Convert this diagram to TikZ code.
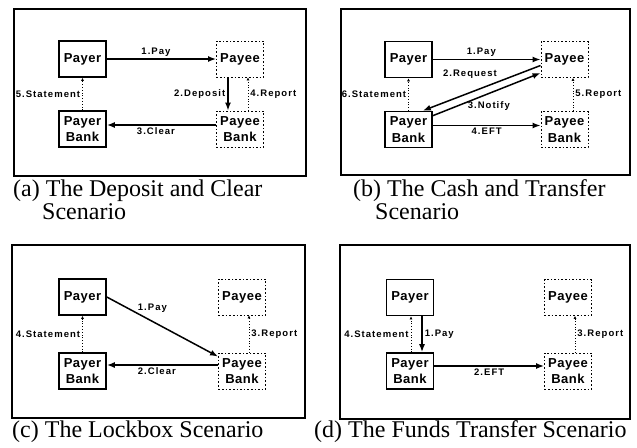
\documentclass[tikz,border=0pt]{standalone}
\usepackage{fontspec}
\setmainfont{Liberation Serif}
\newfontfamily\boxfont[LetterSpace=4]{Liberation Sans}
\newfontfamily\tagfont[LetterSpace=11]{Liberation Sans}
\usetikzlibrary{arrows.meta}
\tikzset{
  party/.style={draw,line width=1.6pt,minimum width=47pt,minimum height=36pt,
    inner sep=1pt,align=center,font=\boxfont\bfseries\fontsize{13}{16.5}\selectfont},
  remote/.style={party,dotted,line width=0.9pt},
  panel/.style={draw,line width=1.3pt},
  flow/.style={-{Latex[length=8pt,width=6pt]},line width=1.5pt},
  notice/.style={-{Latex[length=3pt,width=3pt]},dotted,line width=0.8pt},
  tag/.style={font=\tagfont\bfseries\fontsize{9.5}{11}\selectfont,inner sep=2pt},
  caption/.style={anchor=base west,inner sep=0pt,font=\fontsize{24}{26}\selectfont}
}

\begin{document}
\begin{tikzpicture}[x=1pt,y=-1pt]
  \useasboundingbox (0,0) rectangle (637,447);

  % (a) deposit and clear
  \draw[panel] (14,9) rectangle (306,176);
  \node[party] (payerA) at (82.5,59) {Payer};
  \node[remote] (payeeA) at (240,59) {Payee};
  \node[party] (payerbankA) at (82.5,129) {Payer\\Bank};
  \node[remote] (payeebankA) at (240,129) {Payee\\Bank};
  \draw[flow] (payerA) -- node[tag,above,pos=0.45] {1.Pay} (payeeA);
  \draw[flow] ([xshift=-12pt]payeeA.south) -- node[tag,left] {2.Deposit}
    ([xshift=-12pt]payeebankA.north);
  \draw[flow] ([yshift=4pt]payeebankA.west) -- node[tag,below,pos=0.55] {3.Clear}
    ([yshift=4pt]payerbankA.east);
  \draw[notice] ([xshift=8pt]payeebankA.north) -- node[tag,right] {4.Report}
    ([xshift=8pt]payeeA.south);
  \draw[notice] (payerbankA) -- node[tag,left] {5.Statement} (payerA);
  \node[caption] (capA) at (13,196) {(a) The Deposit and Clear};
  \node[caption] (capA2) at (42,219) {Scenario};

  % (b) cash and transfer
  \draw[panel] (341,9) rectangle (630,175);
  \node[party] (payerB) at (408.5,59.5) {Payer};
  \node[remote] (payeeB) at (564.5,59.5) {Payee};
  \node[party] (payerbankB) at (408.5,129.5) {Payer\\Bank};
  \node[remote] (payeebankB) at (564.5,129.5) {Payee\\Bank};
  \draw[flow] (payerB) -- node[tag,above,pos=0.45] {1.Pay} (payeeB);
  \draw[flow] ([yshift=-6pt]payeeB.west) -- node[tag,pos=0.6,above=11pt] {2.Request}
    ([xshift=-10pt]payerbankB.north east);
  \draw[flow] ([yshift=-5pt]payerbankB.north east) -- node[tag,pos=0.52,below=5pt] {3.Notify}
    ([yshift=-13.5pt]payeeB.west);
  \draw[flow] ([yshift=4pt]payerbankB.east) -- node[tag,below] {4.EFT}
    ([yshift=4pt]payeebankB.west);
  \draw[notice] ([xshift=8.5pt]payeebankB.north) -- node[tag,right] {5.Report}
    ([xshift=8.5pt]payeeB.south);
  \draw[notice] (payerbankB) -- node[tag,left] {6.Statement} (payerB);
  \node[caption] (capB) at (353,196) {(b) The Cash and Transfer};
  \node[caption] (capB2) at (375,219) {Scenario};

  % (c) lockbox
  \draw[panel] (12,245) rectangle (305,418);
  \node[party] (payerC) at (82.5,297) {Payer};
  \node[remote] (payeeC) at (242,297) {Payee};
  \node[party] (payerbankC) at (82.5,371) {Payer\\Bank};
  \node[remote] (payeebankC) at (242,371) {Payee\\Bank};
  \draw[flow] (payerC.east) -- node[tag,pos=0.41,above=6pt] {1.Pay}
    ([yshift=-4pt]payeebankC.north west);
  \draw[flow] ([yshift=6pt]payeebankC.west) -- node[tag,below,pos=0.55] {2.Clear}
    ([yshift=6pt]payerbankC.east);
  \draw[notice] ([xshift=7pt]payeebankC.north) -- node[tag,right] {3.Report}
    ([xshift=7pt]payeeC.south);
  \draw[notice] (payerbankC) -- node[tag,left] {4.Statement} (payerC);
  \node[caption] (capC) at (12,437) {(c) The Lockbox Scenario};

  % (d) funds transfer
  \draw[panel] (340,245) rectangle (630,419);
  \node[party] (payerD) at (410,297.5) {Payer};
  \node[remote] (payeeD) at (568,297.5) {Payee};
  \node[party] (payerbankD) at (410,371) {Payer\\Bank};
  \node[remote] (payeebankD) at (568,371) {Payee\\Bank};
  \draw[flow] ([xshift=12pt]payerD.south) -- node[tag,right] {1.Pay}
    ([xshift=12pt]payerbankD.north);
  \draw[flow] ([yshift=5pt]payerbankD.east) -- node[tag,below] {2.EFT}
    ([yshift=5pt]payeebankD.west);
  \draw[notice] ([xshift=7pt]payeebankD.north) -- node[tag,right] {3.Report}
    ([xshift=7pt]payeeD.south);
  \draw[notice] ([xshift=1pt]payerbankD.north) -- node[tag,left] {4.Statement}
    ([xshift=1pt]payerD.south);
  \node[caption] (capD) at (314,437) {(d) The Funds Transfer Scenario};
\end{tikzpicture}
\end{document}
